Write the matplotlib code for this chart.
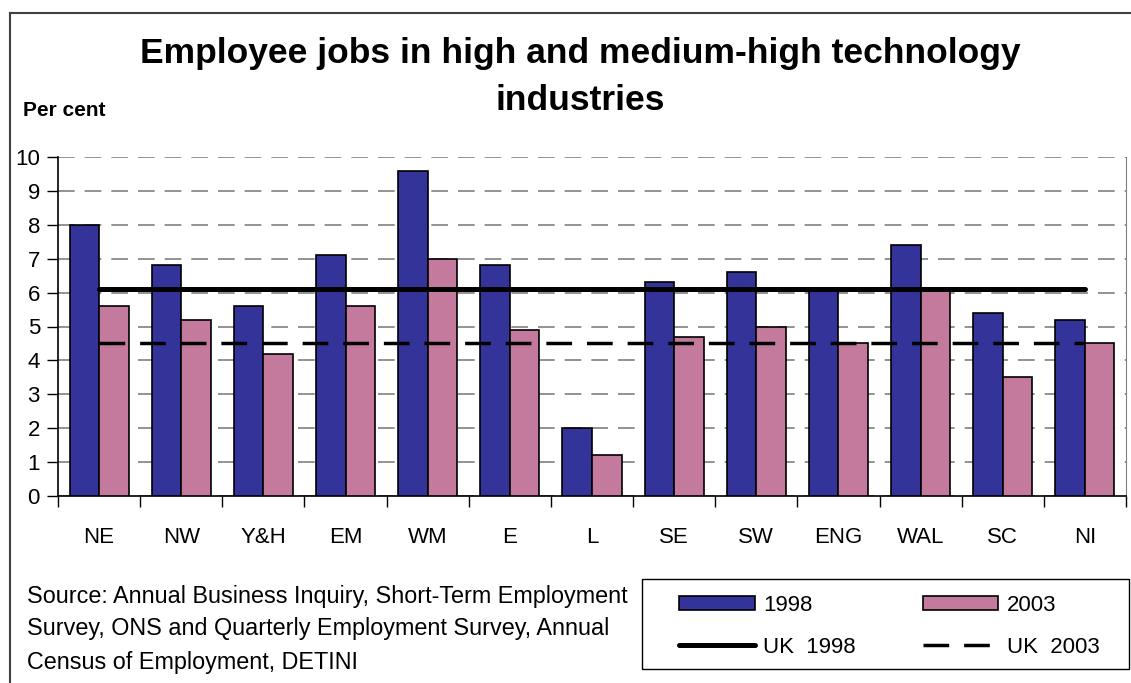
import matplotlib
matplotlib.use("Agg")
import matplotlib.pyplot as plt
from matplotlib.lines import Line2D
from matplotlib.patches import Patch, Rectangle
import numpy as np

plt.rcParams["font.family"] = ["Liberation Sans", "DejaVu Sans"]

# values (per cent)
regions = ["NE", "NW", "Y&H", "EM", "WM", "E", "L", "SE", "SW", "ENG", "WAL", "SC", "NI"]
jobs_1998 = [8.0, 6.8, 5.6, 7.1, 9.6, 6.8, 2.0, 6.3, 6.6, 6.1, 7.4, 5.4, 5.2]
jobs_2003 = [5.6, 5.2, 4.2, 5.6, 7.0, 4.9, 1.2, 4.7, 5.0, 4.5, 6.1, 3.5, 4.5]
uk_1998 = 6.1
uk_2003 = 4.5
y_ticks = list(range(0, 11))

BLUE = "#333399"
PINK = "#C47A9C"

W, H = 1131, 683
fig = plt.figure(figsize=(W / 100, H / 100), dpi=100)
ax = fig.add_axes([58 / W, 1 - 496 / H, (1126 - 58) / W, (496 - 157) / H])

x = np.arange(len(regions))
bw = 0.36
ax.bar(x - bw / 2, jobs_1998, bw, color=BLUE, edgecolor="black", linewidth=1.2, zorder=3)
ax.bar(x + bw / 2, jobs_2003, bw, color=PINK, edgecolor="black", linewidth=1.2, zorder=3)
ax.plot(x, [uk_1998] * len(x), color="black", lw=3.6, solid_capstyle="round", zorder=4)
ax.plot(x, [uk_2003] * len(x), color="black", lw=2.5, dashes=(7.4, 4.3), zorder=4)

ax.set_xlim(-0.5, len(regions) - 0.5)
ax.set_ylim(0, 10)
ax.set_yticks(y_ticks)
ax.set_yticklabels([str(v) for v in y_ticks], fontsize=16)
ax.set_xticks(np.arange(-0.5, len(regions), 1.0))
ax.set_xticklabels([])
ax.set_xticks(x, minor=True)
ax.set_xticklabels(regions, minor=True, fontsize=16)
ax.tick_params(axis="x", which="minor", length=0, pad=22)
ax.tick_params(axis="x", which="major", length=8, direction="out", width=1)
ax.tick_params(axis="y", length=8, direction="out", width=1, pad=5)
ax.yaxis.grid(True, color="#808080", linestyle=(0, (10, 6)), linewidth=1.2, zorder=0)
ax.set_axisbelow(True)
ax.spines["top"].set_visible(False)
ax.spines["right"].set_color("#808080")
ax.spines["left"].set_linewidth(1.2)
ax.spines["bottom"].set_linewidth(1.2)

fig.text(580 / W, 1 - 53 / H, "Employee jobs in high and medium-high technology",
         ha="center", va="center", fontsize=25.5, fontweight="bold")
fig.text(580 / W, 1 - 100 / H, "industries",
         ha="center", va="center", fontsize=25.5, fontweight="bold")
fig.text(23 / W, 1 - 110 / H, "Per cent", ha="left", va="center", fontsize=15, fontweight="bold")

source = ["Source: Annual Business Inquiry, Short-Term Employment",
          "Survey, ONS and Quarterly Employment Survey, Annual",
          "Census of Employment, DETINI"]
for i, line in enumerate(source):
    fig.text(27 / W, 1 - (596 + 33 * i) / H, line, ha="left", va="center", fontsize=16.8)

handles = [Patch(facecolor=BLUE, edgecolor="black", lw=1.2),
           Line2D([], [], color="black", lw=3.6, solid_capstyle="round"),
           Patch(facecolor=PINK, edgecolor="black", lw=1.2),
           Line2D([], [], color="black", lw=2.5, dashes=(7.4, 4.3))]
labels = ["1998", "UK  1998", "2003", "UK  2003"]
fig.legend(handles, labels, ncol=2, loc="upper left",
           bbox_to_anchor=(679 / W, 1 - 595 / H), fontsize=16,
           frameon=False, borderpad=0, borderaxespad=0,
           handlelength=3.4, handleheight=0.63, handletextpad=0.4,
           columnspacing=3.0, labelspacing=0.93)
fig.add_artist(Rectangle((642 / W, 1 - 669 / H), (1129 - 642) / W, 90 / H,
                         transform=fig.transFigure, fill=False,
                         edgecolor="black", lw=1.0))

# outer frame of the chart (runs off the right and bottom of the picture)
fig.add_artist(Line2D([10 / W, 10 / W], [0, 1 - 13 / H], color="#404040", lw=1.5))
fig.add_artist(Line2D([10 / W, 1], [1 - 13 / H, 1 - 13 / H], color="#404040", lw=1.5))

fig.savefig("out.png", dpi=100)
